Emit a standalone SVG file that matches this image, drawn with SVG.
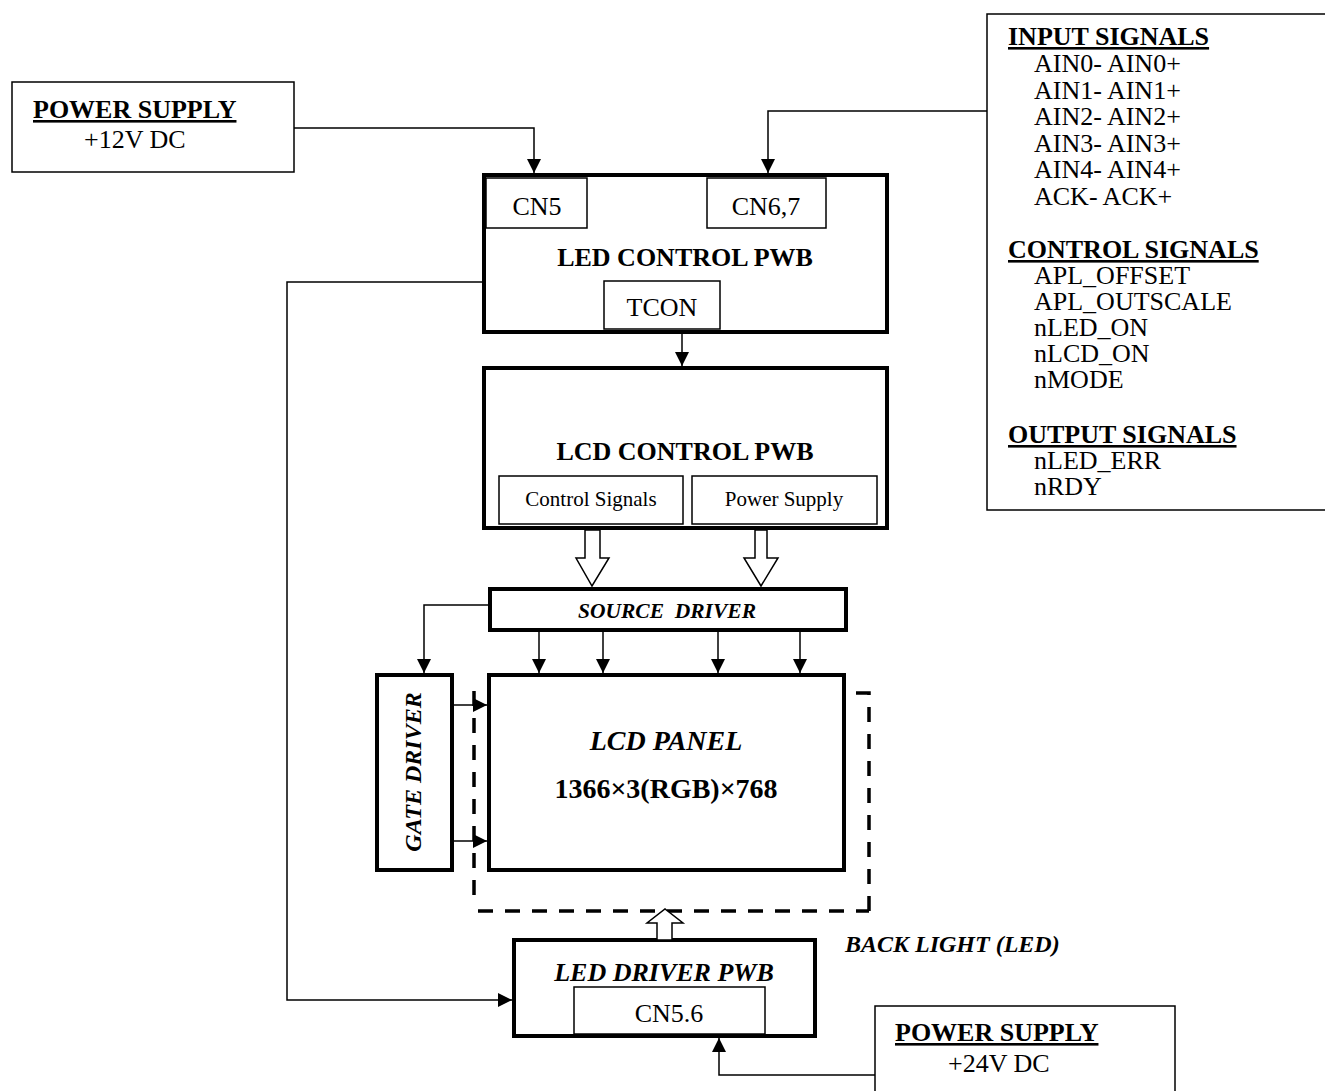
<svg xmlns="http://www.w3.org/2000/svg" width="1325" height="1091" viewBox="0 0 1325 1091">
<style>
text{font-family:"Liberation Serif","Times New Roman",serif;fill:#000}
.b{font-weight:bold}
.bi{font-weight:bold;font-style:italic}
.u{text-decoration:underline}
.thin{fill:#fff;stroke:#000;stroke-width:1.5}
.thick{fill:#fff;stroke:#000;stroke-width:4}
.ln{fill:none;stroke:#000;stroke-width:1.5}
.hollow{fill:#fff;stroke:#000;stroke-width:1.5}
.dash{fill:none;stroke:#000;stroke-width:3.5;stroke-dasharray:15 12}
</style>
<defs>
<marker id="ah" markerUnits="userSpaceOnUse" markerWidth="14" markerHeight="14" refX="14" refY="7" orient="auto">
<path d="M0,0 L14,7 L0,14 Z" fill="#000"/>
</marker>
</defs>
<rect width="1325" height="1091" fill="#fff"/>

<g id="ps12">
<rect class="thin" x="12" y="82" width="282" height="90"/>
<text class="b u" x="33" y="118" font-size="26">POWER SUPPLY</text>
<text x="84" y="148" font-size="26">+12V DC</text>
</g>

<g id="signals">
<rect class="thin" x="987" y="14" width="345" height="496"/>
<text class="b u" x="1008" y="45" font-size="26">INPUT SIGNALS</text>
<g font-size="26">
<text x="1034" y="72">AIN0- AIN0+</text>
<text x="1034" y="98.5">AIN1- AIN1+</text>
<text x="1034" y="125">AIN2- AIN2+</text>
<text x="1034" y="151.5">AIN3- AIN3+</text>
<text x="1034" y="178">AIN4- AIN4+</text>
<text x="1034" y="204.5">ACK- ACK+</text>
</g>
<text class="b u" x="1008" y="258" font-size="26">CONTROL SIGNALS</text>
<g font-size="26">
<text x="1034" y="284">APL_OFFSET</text>
<text x="1034" y="310">APL_OUTSCALE</text>
<text x="1034" y="336">nLED_ON</text>
<text x="1034" y="362">nLCD_ON</text>
<text x="1034" y="388">nMODE</text>
</g>
<text class="b u" x="1008" y="443" font-size="26">OUTPUT SIGNALS</text>
<g font-size="26">
<text x="1034" y="469">nLED_ERR</text>
<text x="1034" y="495">nRDY</text>
</g>
</g>

<g id="ledctrl">
<rect class="thick" x="484" y="175" width="403" height="157"/>
<rect class="thin" x="486" y="178" width="101" height="50"/>
<text x="537" y="215" font-size="26" text-anchor="middle">CN5</text>
<rect class="thin" x="707" y="178" width="119" height="50"/>
<text x="766" y="215" font-size="26" text-anchor="middle">CN6,7</text>
<text class="b" x="685" y="266" font-size="26" text-anchor="middle">LED CONTROL PWB</text>
<rect class="thin" x="604" y="281" width="116" height="48"/>
<text x="662" y="316" font-size="26" text-anchor="middle">TCON</text>
</g>

<g id="lcdctrl">
<rect class="thick" x="484" y="368" width="403" height="160"/>
<text class="b" x="685" y="460" font-size="26" text-anchor="middle">LCD CONTROL PWB</text>
<rect class="thin" x="499" y="476" width="184" height="48"/>
<text x="591" y="506" font-size="21" text-anchor="middle">Control Signals</text>
<rect class="thin" x="692" y="476" width="185" height="48"/>
<text x="784" y="506" font-size="21" text-anchor="middle">Power Supply</text>
</g>

<g id="source">
<rect class="thick" x="490" y="589" width="356" height="41"/>
<text class="bi" x="667" y="618" font-size="21.5" text-anchor="middle" xml:space="preserve">SOURCE  DRIVER</text>
</g>

<g id="gate">
<rect class="thick" x="377" y="675" width="75" height="195"/>
<text class="bi" transform="translate(421,772) rotate(-90)" font-size="24" text-anchor="middle">GATE DRIVER</text>
</g>

<g id="panel">
<rect class="thick" x="489" y="675" width="355" height="195"/>
<text class="bi" x="666" y="750" font-size="28" text-anchor="middle">LCD PANEL</text>
<text class="b" x="666" y="798" font-size="28" text-anchor="middle">1366×3(RGB)×768</text>
</g>

<g id="backlight">
<path class="dash" d="M474 691 V902"/>
<path class="dash" d="M478 911 H869"/>
<path class="dash" d="M869 911 V693 H853"/>
<text class="bi" x="845" y="952" font-size="24">BACK LIGHT (LED)</text>
</g>

<g id="leddrv">
<rect class="thick" x="514" y="940" width="301" height="96"/>
<text class="bi" x="664" y="981" font-size="26" text-anchor="middle">LED DRIVER PWB</text>
<rect class="thin" x="574" y="987" width="191" height="47"/>
<text x="669" y="1022" font-size="26" text-anchor="middle">CN5.6</text>
</g>

<g id="ps24">
<rect class="thin" x="875" y="1006" width="300" height="100"/>
<text class="b u" x="895" y="1041" font-size="26">POWER SUPPLY</text>
<text x="948" y="1072" font-size="26">+24V DC</text>
</g>

<g id="connectors">
<path class="ln" d="M294 128 H534 V173" marker-end="url(#ah)"/>
<path class="ln" d="M987 111 H768 V173" marker-end="url(#ah)"/>
<path class="ln" d="M682 331 V366" marker-end="url(#ah)"/>
<path class="ln" d="M484 282 H287 V1000 H512" marker-end="url(#ah)"/>
<path class="ln" d="M490 605 H424 V673" marker-end="url(#ah)"/>
<path class="ln" d="M539 632 V673" marker-end="url(#ah)"/>
<path class="ln" d="M603 632 V673" marker-end="url(#ah)"/>
<path class="ln" d="M718 632 V673" marker-end="url(#ah)"/>
<path class="ln" d="M800 632 V673" marker-end="url(#ah)"/>
<path class="ln" d="M454 705 H487" marker-end="url(#ah)"/>
<path class="ln" d="M454 841 H487" marker-end="url(#ah)"/>
<path class="ln" d="M875 1075 H719 V1038" marker-end="url(#ah)"/>
<path class="hollow" d="M585 530 V558 H576 L592 586 L609 558 H600 V530 Z"/>
<path class="hollow" d="M755 530 V558 H744 L761 586 L778 558 H767 V530 Z"/>
<path class="hollow" d="M657 940 V923 H647 L665 909 L683 923 H672 V940 Z"/>
</g>
</svg>
